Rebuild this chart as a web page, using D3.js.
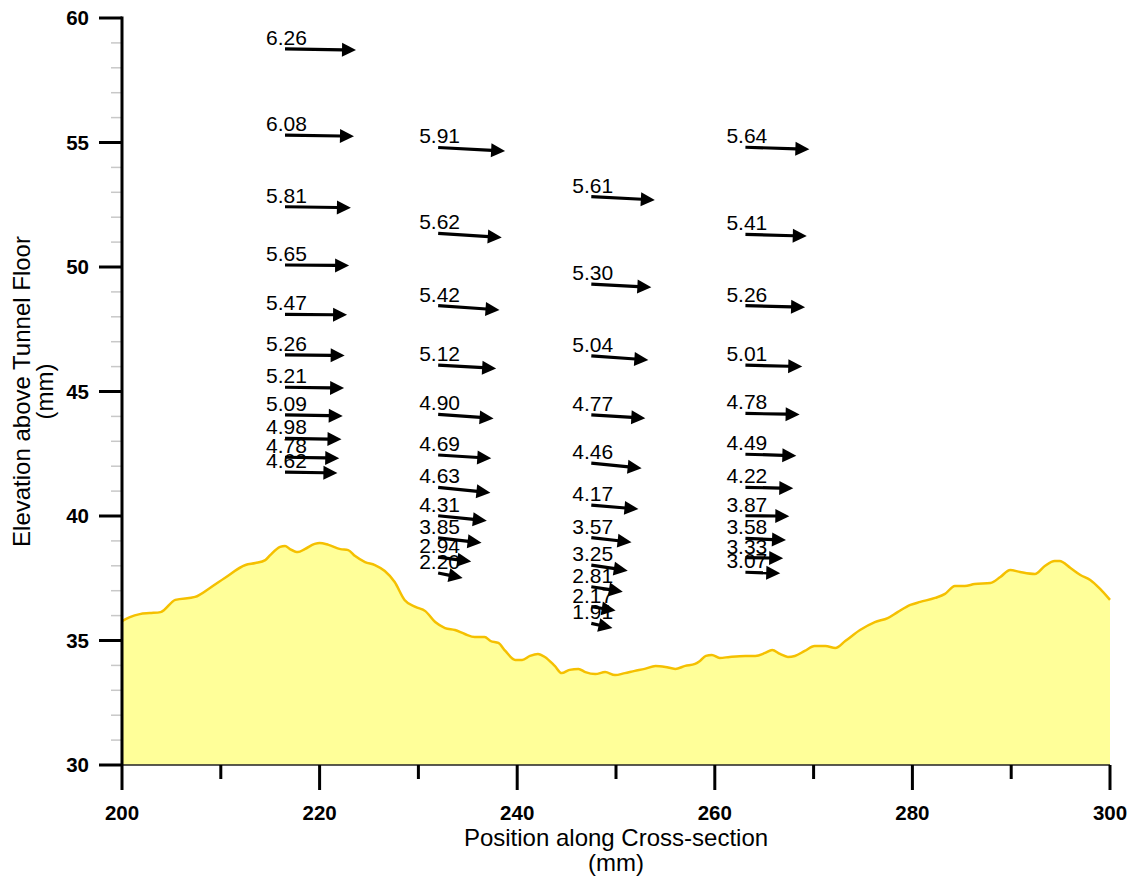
<!DOCTYPE html>
<html>
<head>
<meta charset="utf-8">
<script src="https://cdn.jsdelivr.net/npm/d3@7"></script>
<style>
  html, body { margin: 0; padding: 0; background: #fff; }
  svg { display: block; font-family: "Liberation Sans", Arial, sans-serif; }
</style>
</head>
<body>
<svg id="chart" width="1139" height="882"></svg>
<script>
// Bed profile along the cross-section (position mm, elevation mm)
const bedX = [200.0, 200.8, 201.8, 202.8, 203.9, 205.4, 207.4, 208.9, 210.4, 212.5, 213.5, 214.5, 215.0, 216.0, 216.5, 217.0, 217.8, 218.5, 219.5, 220.0, 220.9, 222.1, 222.9, 223.6, 224.6, 225.6, 226.6, 227.6, 228.6, 229.7, 230.7, 231.7, 232.7, 233.7, 234.7, 235.7, 236.7, 237.3, 238.1, 238.8, 239.8, 240.5, 241.3, 242.1, 242.8, 243.8, 244.5, 245.3, 246.2, 246.9, 247.9, 248.9, 249.9, 250.9, 251.9, 252.9, 254.0, 255.0, 256.0, 257.0, 258.0, 258.5, 259.1, 259.7, 260.5, 261.5, 263.1, 264.1, 265.1, 265.8, 266.6, 267.4, 268.1, 269.1, 270.1, 271.2, 272.2, 273.2, 274.7, 276.2, 277.5, 278.5, 279.8, 280.8, 282.3, 283.3, 284.3, 285.3, 286.3, 287.9, 288.9, 289.9, 290.9, 292.4, 293.4, 294.4, 294.9, 296.0, 297.0, 298.0, 299.0, 300.0];
const bedZ = [35.78, 35.94, 36.06, 36.10, 36.14, 36.63, 36.75, 37.11, 37.51, 38.03, 38.11, 38.23, 38.43, 38.76, 38.80, 38.67, 38.55, 38.67, 38.88, 38.92, 38.84, 38.67, 38.63, 38.39, 38.15, 38.03, 37.79, 37.35, 36.63, 36.35, 36.18, 35.74, 35.50, 35.42, 35.26, 35.14, 35.14, 34.98, 34.90, 34.58, 34.22, 34.22, 34.38, 34.46, 34.34, 33.98, 33.69, 33.82, 33.86, 33.73, 33.65, 33.73, 33.61, 33.69, 33.78, 33.86, 33.98, 33.94, 33.86, 33.98, 34.06, 34.18, 34.38, 34.42, 34.30, 34.34, 34.38, 34.38, 34.50, 34.62, 34.46, 34.34, 34.38, 34.58, 34.78, 34.78, 34.70, 34.98, 35.42, 35.74, 35.90, 36.14, 36.43, 36.55, 36.71, 36.87, 37.19, 37.19, 37.27, 37.31, 37.55, 37.83, 37.75, 37.67, 37.99, 38.19, 38.19, 37.91, 37.63, 37.43, 37.07, 36.63];

// Velocity profiles: station position (mm), point elevations (mm),
// speed magnitudes (as labelled) and flow direction (degrees below horizontal)
const stationX = [216.5, 232.0, 247.5, 263.1];
const profileZ = [
  [58.76, 55.30, 52.42, 50.08, 48.10, 46.47, 45.17, 44.06, 43.12, 42.36, 41.76],
  [54.80, 51.35, 48.45, 46.06, 44.08, 42.45, 41.15, 40.01, 39.12, 38.35, 37.71],
  [52.83, 49.31, 46.43, 44.06, 42.12, 40.44, 39.13, 38.03, 37.16, 36.36, 35.69],
  [54.81, 51.31, 48.45, 46.06, 44.12, 42.48, 41.15, 40.01, 39.10, 38.33, 37.74]
];
const profileSpeed = [
  [6.26, 6.08, 5.81, 5.65, 5.47, 5.26, 5.21, 5.09, 4.98, 4.78, 4.62],
  [5.91, 5.62, 5.42, 5.12, 4.90, 4.69, 4.63, 4.31, 3.85, 2.94, 2.20],
  [5.61, 5.30, 5.04, 4.77, 4.46, 4.17, 3.57, 3.25, 2.81, 2.17, 1.91],
  [5.64, 5.41, 5.26, 5.01, 4.78, 4.49, 4.22, 3.87, 3.58, 3.33, 3.07]
];
const profileAngle = [
  [1.0, 1.0, 0.8, 0.5, 0.5, 0.5, 0.8, 1.0, 1.0, 1.0, 0.8],
  [3.0, 3.6, 4.0, 3.3, 4.1, 3.6, 5.9, 5.8, 6.5, 7.8, 11.3],
  [3.1, 2.9, 4.0, 3.5, 5.6, 4.9, 6.5, 8.8, 8.9, 9.1, 12.8],
  [1.8, 1.6, 1.5, 1.5, 1.1, 1.6, 1.2, 0.5, 2.4, 1.0, 1.6]
];

// Axis ticks
const xMajorTicks = [200, 220, 240, 260, 280, 300];
const xMinorTicks = [210, 230, 250, 270, 290];
const yMajorTicks = [30, 35, 40, 45, 50, 55, 60];
const yMinorTicks = d3.range(30, 61).filter(v => v % 5 !== 0);

// Arrow length in position-axis units per unit of speed
const vectorScale = 1.148;

const svg = d3.select("#chart");
const plotLeft = 122, plotRight = 1110, plotTop = 18, plotBottom = 765;

const x = d3.scaleLinear().domain([200, 300]).range([plotLeft, plotRight]);
const y = d3.scaleLinear().domain([30, 60]).range([plotBottom, plotTop]);

// Bed area
const bed = bedX.map((v, i) => [v, bedZ[i]]);
svg.append("path")
  .datum(bed)
  .attr("fill", "#FFFF99")
  .attr("d", d3.area().x(d => x(d[0])).y0(y(30)).y1(d => y(d[1])).curve(d3.curveMonotoneX));
svg.append("path")
  .datum(bed)
  .attr("fill", "none")
  .attr("stroke", "#F5C000")
  .attr("stroke-width", 2.5)
  .attr("stroke-linejoin", "round")
  .attr("d", d3.line().x(d => x(d[0])).y(d => y(d[1])).curve(d3.curveMonotoneX));

// X axis
const gx = svg.append("g").attr("transform", `translate(0,${plotBottom})`);
gx.append("line").attr("x1", plotLeft).attr("x2", plotRight).attr("stroke", "#222").attr("stroke-width", 1.5);
gx.selectAll(".xmaj").data(xMajorTicks).join("line")
  .attr("x1", d => x(d)).attr("x2", d => x(d)).attr("y1", 0).attr("y2", 25)
  .attr("stroke", "#000").attr("stroke-width", 3);
gx.selectAll(".xmin").data(xMinorTicks).join("line")
  .attr("x1", d => x(d)).attr("x2", d => x(d)).attr("y1", 0).attr("y2", 14)
  .attr("stroke", "#000").attr("stroke-width", 3);
gx.selectAll(".xlab").data(xMajorTicks).join("text")
  .attr("x", d => x(d)).attr("y", 55)
  .attr("text-anchor", "middle")
  .attr("font-size", 20.5).attr("font-weight", "bold")
  .text(d => d);

// Y axis
const gy = svg.append("g").attr("transform", `translate(${plotLeft},0)`);
gy.selectAll(".ymin").data(yMinorTicks).join("line")
  .attr("x1", -11).attr("x2", 0).attr("y1", d => y(d)).attr("y2", d => y(d))
  .attr("stroke", "#c8c8c8").attr("stroke-width", 1.5);
gy.selectAll(".ymaj").data(yMajorTicks).join("line")
  .attr("x1", -23).attr("x2", 0).attr("y1", d => y(d)).attr("y2", d => y(d))
  .attr("stroke", "#000").attr("stroke-width", 3);
gy.append("line").attr("x1", 0).attr("x2", 0).attr("y1", plotTop - 1.5).attr("y2", plotBottom)
  .attr("stroke", "#000").attr("stroke-width", 3);
gy.selectAll(".ylab").data(yMajorTicks).join("text")
  .attr("x", -33).attr("y", d => y(d)).attr("dy", "0.35em")
  .attr("text-anchor", "end")
  .attr("font-size", 20.5).attr("font-weight", "bold")
  .text(d => d);

// Axis titles
const xt = svg.append("text").attr("text-anchor", "middle").attr("font-size", 24);
xt.append("tspan").attr("x", (plotLeft + plotRight) / 2).attr("y", 846).text("Position along Cross-section");
xt.append("tspan").attr("x", (plotLeft + plotRight) / 2).attr("y", 871).text("(mm)");

const yt = svg.append("text").attr("text-anchor", "middle").attr("font-size", 24)
  .attr("transform", `translate(0,${(plotTop + plotBottom) / 2}) rotate(-90)`);
yt.append("tspan").attr("x", 0).attr("y", 30).text("Elevation above Tunnel Floor");
yt.append("tspan").attr("x", 0).attr("y", 53).text("(mm)");

// Velocity vectors
const vectors = [];
stationX.forEach((sx, c) => {
  profileZ[c].forEach((z, i) => {
    vectors.push({ x0: sx, z: z, v: profileSpeed[c][i], a: profileAngle[c][i] });
  });
});

const gv = svg.append("g");
const headLen = 14, headHalf = 7;
vectors.forEach(d => {
  const px = x(d.x0), py = y(d.z);
  const len = x(d.x0 + d.v * vectorScale) - x(d.x0);
  const t = d.a * Math.PI / 180;
  const ux = Math.cos(t), uy = Math.sin(t);
  const ex = px + len * ux, ey = py + len * uy;
  const bx = ex - headLen * ux, by = ey - headLen * uy;
  gv.append("line")
    .attr("x1", px).attr("y1", py).attr("x2", bx + ux).attr("y2", by + uy)
    .attr("stroke", "#000").attr("stroke-width", 3.2);
  gv.append("path")
    .attr("d", `M${ex},${ey}L${bx - headHalf * uy},${by + headHalf * ux}L${bx + headHalf * uy},${by - headHalf * ux}Z`)
    .attr("fill", "#000");
  gv.append("text")
    .attr("x", px - 19).attr("y", py - 4)
    .attr("font-size", 21)
    .attr("fill", "#000")
    .text(d.v.toFixed(2));
});
</script>
</body>
</html>
